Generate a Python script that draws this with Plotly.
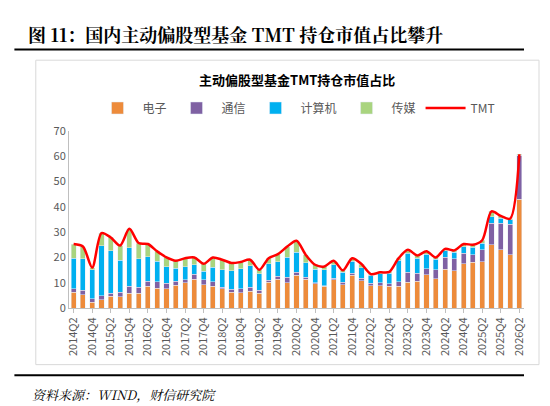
import plotly.graph_objects as go

quarters = [f"{y}Q{q}" for y in range(2014, 2027) for q in range(1, 5)]
quarters = quarters[quarters.index("2014Q2"):quarters.index("2026Q2") + 1]

# cumulative stack tops
c_elec = [6.3,5.3,2.2,3.3,4.6,4.5,5.9,5.8,8.6,7.9,7.6,9.0,9.9,11.3,9.2,8.7,7.6,6.3,6.1,6.6,5.9,10.1,11.3,10.0,12.9,
          11.4,9.6,8.7,11.2,9.2,12.9,10.8,8.8,8.8,8.6,8.6,10.1,10.5,13.2,11.6,15.3,14.7,17.5,18.0,18.2,25.0,23.0,21.1,43.0]
c_comm = [7.6,7.1,3.6,4.9,5.9,6.3,8.6,8.2,10.5,10.3,9.7,10.5,11.2,13.4,11.1,10.3,8.2,7.4,7.6,8.2,7.0,11.0,12.5,12.1,14.2,
          12.2,9.9,8.9,11.8,10.1,13.7,11.8,9.7,10.0,9.6,10.3,14.1,13.8,15.5,15.1,20.0,19.5,21.7,21.1,23.0,33.6,33.6,33.2,60.3]
c_comp = [19.7,19.5,15.1,24.6,22.6,18.9,23.9,19.5,20.3,18.4,16.3,15.8,16.4,17.1,14.5,16.1,15.1,14.7,15.5,16.7,13.5,17.6,18.2,20.0,22.1,
          17.8,15.4,15.1,17.1,14.1,18.4,15.9,12.9,13.6,13.8,18.8,21.7,19.7,21.3,19.3,22.6,22.1,24.3,24.1,25.7,36.1,35.5,34.9,60.5]
c_media = [25.3,24.3,16.0,29.6,27.9,24.7,31.3,25.7,25.3,22.4,20.0,18.7,19.7,20.0,17.5,20.0,19.1,17.8,18.2,19.1,15.1,19.7,21.3,24.3,26.6,
           21.0,17.1,16.4,18.7,14.9,19.7,17.4,13.4,14.1,14.3,19.7,23.0,20.8,22.4,20.0,23.4,22.8,25.3,25.0,26.8,38.2,36.4,35.3,60.8]

elec = c_elec
comm = [round(b - a, 2) for a, b in zip(c_elec, c_comm)]
comp = [round(b - a, 2) for a, b in zip(c_comm, c_comp)]
media = [round(b - a, 2) for a, b in zip(c_comp, c_media)]
tmt = c_media

cols = {"电子": "#ED8B3B", "通信": "#7F61A3", "计算机": "#00B0F0", "传媒": "#A9D47F"}
fig = go.Figure()
for name, vals in [("电子", elec), ("通信", comm), ("计算机", comp), ("传媒", media)]:
    fig.add_bar(x=quarters, y=vals, name=name, marker_color=cols[name], width=0.55)
fig.add_scatter(x=quarters, y=tmt, name="TMT", mode="lines",
                line=dict(color="#FF0000", width=2.5, shape="spline", smoothing=0.8))

fig.update_layout(
    width=550, height=406, barmode="stack", plot_bgcolor="white", paper_bgcolor="white",
    margin=dict(l=61, r=34, t=123, b=106, autoexpand=False),
    font=dict(family="Noto Sans CJK SC", size=11, color="#595959"),
    showlegend=True,
    legend=dict(orientation="h", x=0.5, xanchor="center", y=1.13, yanchor="middle",
                font=dict(size=12, color="#595959"), itemwidth=40, traceorder="normal"),
    annotations=[
        dict(text="<b>图 11：国内主动偏股型基金 TMT 持仓市值占比攀升</b>", xref="paper", yref="paper",
             x=-0.095, y=1.55, xanchor="left", yanchor="middle", showarrow=False,
             font=dict(family="Noto Serif CJK SC, Noto Sans CJK SC", size=18, color="black")),
        dict(text="<b>主动偏股型基金TMT持仓市值占比</b>", xref="paper", yref="paper",
             x=0.5, y=1.29, xanchor="center", yanchor="middle", showarrow=False,
             font=dict(size=13, color="black")),
        dict(text="<i>资料来源：WIND，财信研究院</i>", xref="paper", yref="paper",
             x=-0.085, y=-0.49, xanchor="left", yanchor="middle", showarrow=False,
             font=dict(family="Noto Serif CJK SC, Noto Sans CJK SC", size=13, color="black")),
    ],
    shapes=[
        dict(type="line", xref="paper", yref="paper", x0=-0.12, x1=1.0, y0=1.46, y1=1.46,
             line=dict(color="black", width=2)),
        dict(type="rect", xref="paper", yref="paper", x0=-0.073, x1=1.033, y0=-0.32, y1=1.40,
             line=dict(color="#D9D9D9", width=1)),
        dict(type="line", xref="paper", yref="paper", x0=-0.12, x1=1.0, y0=-0.38, y1=-0.38,
             line=dict(color="black", width=2)),
    ],
)
fig.update_xaxes(type="category", tickmode="array", tickvals=quarters[::2], ticktext=quarters[::2],
                 tickangle=-90, showline=True, linecolor="#BFBFBF", ticks="outside",
                 tickcolor="#BFBFBF", ticklen=4, tickfont=dict(size=11, color="#595959"),
                 range=[-0.5, 48.5])
fig.update_yaxes(range=[0, 70], dtick=10, showgrid=False, showline=True, linecolor="#BFBFBF",
                 ticks="", tickfont=dict(size=11, color="#595959"), zeroline=False)
fig.write_html("out.html")
